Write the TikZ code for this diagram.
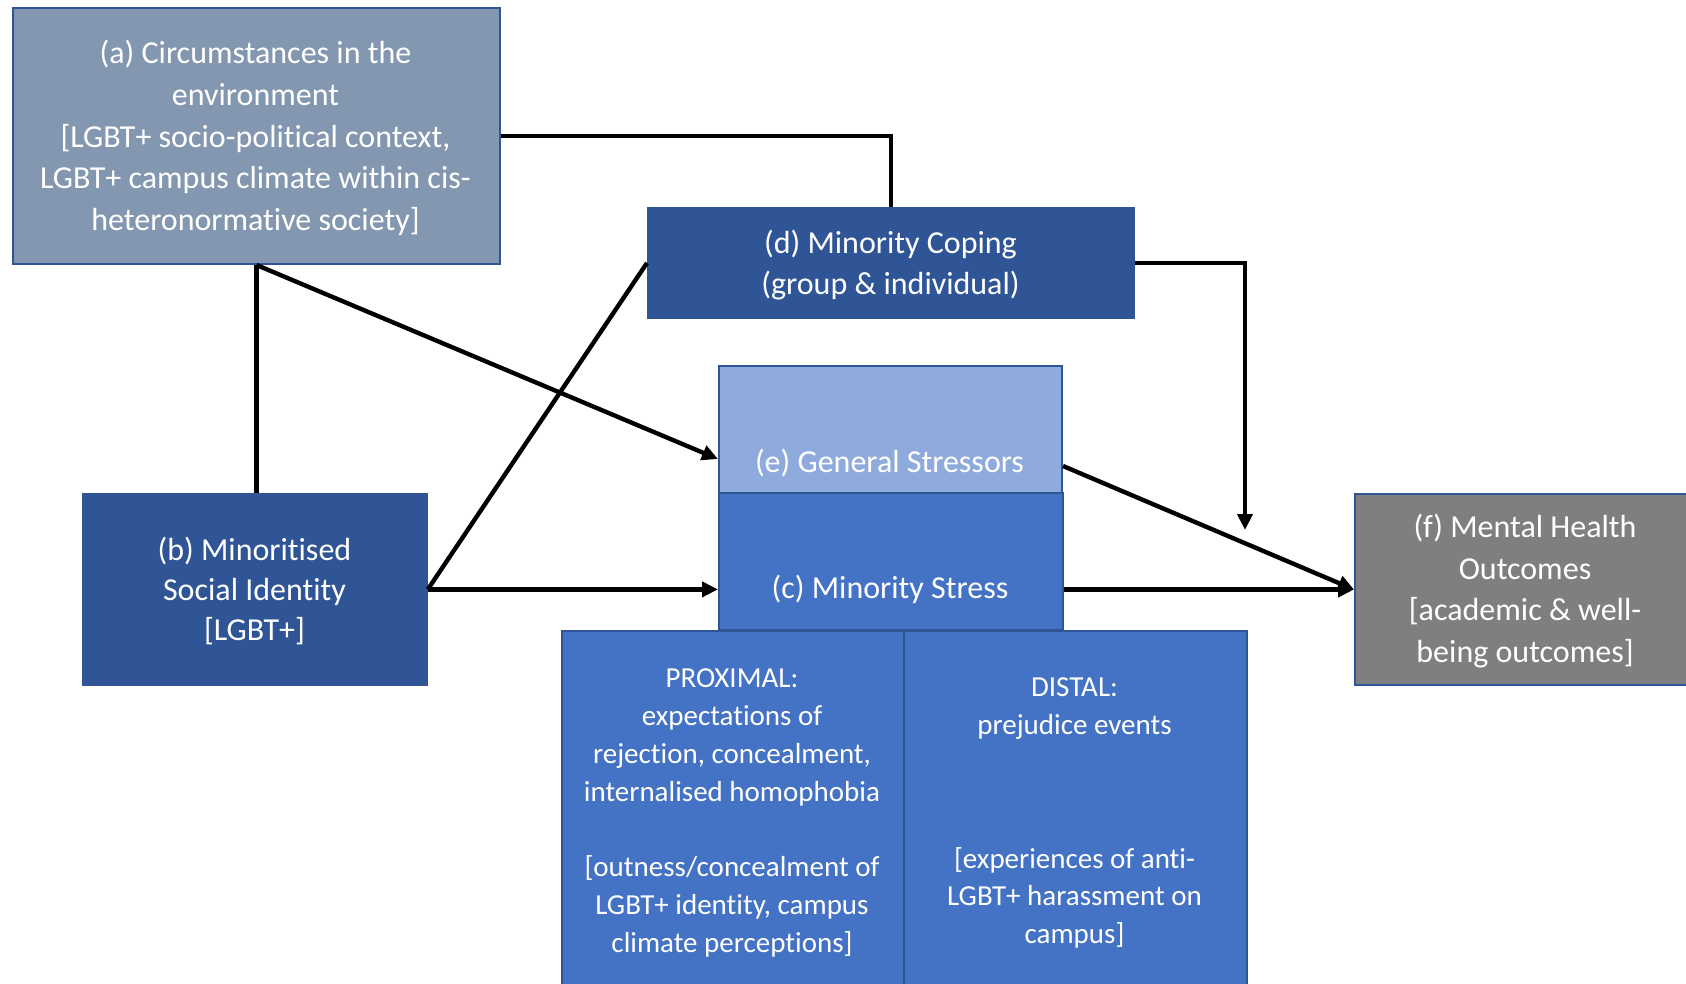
\documentclass[tikz,border=0pt]{standalone}
\usepackage{fontspec}
\setmainfont{Carlito}[Ligatures=NoCommon]
\usetikzlibrary{arrows.meta}

\definecolor{frameblue}{HTML}{2F5597}
\definecolor{envgrey}{HTML}{8497B0}
\definecolor{darkblue}{HTML}{2F5597}
\definecolor{midblue}{HTML}{4472C4}
\definecolor{lightblue}{HTML}{8FAADC}
\definecolor{outgrey}{HTML}{7F7F7F}

\begin{document}
\begin{tikzpicture}[x=0.5pt,y=-0.5pt,
  box/.style={draw=frameblue, line width=1pt, inner sep=0pt, anchor=north west},
  flatbox/.style={box, draw=darkblue, line width=0.4pt},
  txt/.style={text=white, align=center, inner sep=0pt, font=\fontsize{16}{20.8}\selectfont},
  smalltxt/.style={text=white, align=center, inner sep=0pt, font=\fontsize{14.5}{18.9}\selectfont},
  link/.style={line width=2.2pt, black},
  arr/.style={link, -{Triangle[length=8pt,width=7.5pt]}}
]
\useasboundingbox (0,0) rectangle (1686,984);
\clip (0,0) rectangle (1686,984);

% boxes
\node[box, fill=envgrey, minimum width=243.5pt, minimum height=128pt] (a) at (12,7) {};
\node[flatbox, fill=darkblue, minimum width=243.5pt, minimum height=55.5pt] (d) at (647,207) {};
\node[flatbox, fill=darkblue, minimum width=172.5pt, minimum height=96pt] (b) at (82,493) {};
\node[box, fill=outgrey, minimum width=171pt, minimum height=95.5pt] (f) at (1354,493) {};
\node[box, fill=midblue, minimum width=171pt, minimum height=185pt] (prox) at (561,630) {};
\node[box, fill=midblue, minimum width=171.5pt, minimum height=185pt] (dist) at (903,630) {};
\node[box, fill=lightblue, minimum width=171.5pt, minimum height=63.5pt] (e) at (718,365) {};
\node[box, fill=midblue, minimum width=172pt, minimum height=68.5pt] (c) at (718,492) {};

% box texts
\node[txt] (atext) at (255.5,138)
  {(a) Circumstances in the\\environment\\{}[LGBT+ socio-political context,\\LGBT+ campus climate within cis-\\heteronormative society]};
\node[txt] (dtext) at (890.5,265) {(d) Minority Coping\\(group \& individual)};
\node[txt, font=\fontsize{16}{19.8}\selectfont] (btext) at (254.5,591)
  {(b) Minoritised\\Social Identity\\{}[LGBT+]};
\node[txt] (ftext) at (1525,591)
  {(f) Mental Health\\Outcomes\\{}[academic \& well-\\being outcomes]};
\node[txt] (etext) at (889.5,463) {(e) General Stressors};
\node[txt] (ctext) at (890,589) {(c) Minority Stress};
\node[smalltxt] (proxtext) at (732,813)
  {PROXIMAL:\\expectations of\\rejection, concealment,\\internalised homophobia\\[18.9pt]
   {}[outness/concealment of\\LGBT+ identity, campus\\climate perceptions]};
\node[smalltxt] (disttext) at (1074.5,813)
  {DISTAL:\\prejudice events\\[48pt]
   {}[experiences of anti-\\LGBT+ harassment on\\campus]};

% connectors
\coordinate (dend) at (1245,530);
\draw[link] (a.east) -| (d.north);
\draw[link] (a.south) -- (a.south |- b.north);
\draw[arr] (a.south) -- ([yshift=-14.75pt]e.west);
\draw[link] (b.east) -- (d.west);
\draw[arr] (b.east) -- (b.east -| c.west);
\draw[arr] (d.east) -| (dend);
\draw[arr] ([yshift=-18.25pt]e.east) -- (f.west);
\draw[arr] (c.east |- f.west) -- (f.west);
\end{tikzpicture}
\end{document}
